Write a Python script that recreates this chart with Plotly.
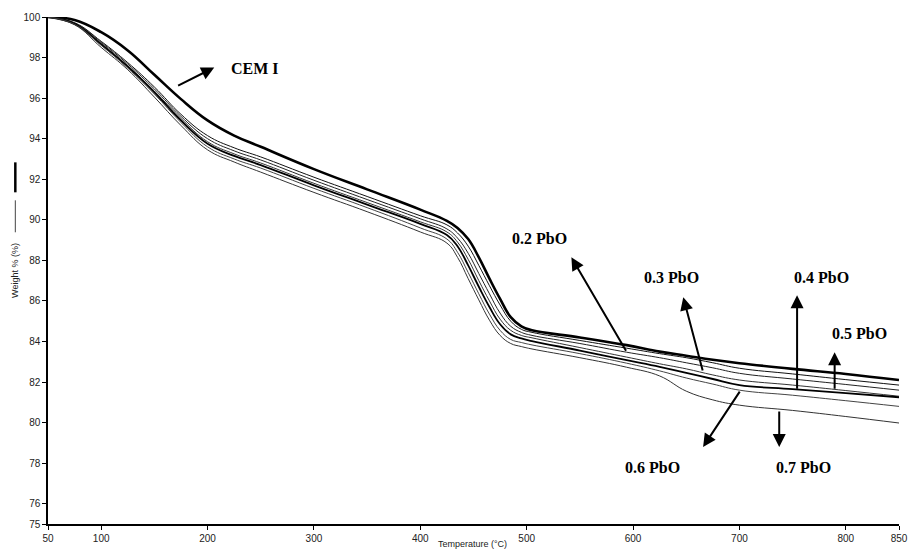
import plotly.graph_objects as go

temps = [50, 75, 100, 125, 150, 175, 200, 225, 250, 300, 350, 400, 425, 435, 445,
         455, 465, 475, 485, 495, 505, 550, 594, 625, 650, 675, 700, 750, 800, 850]

cem_i = [100.0, 99.85, 99.25, 98.35, 97.15, 95.95, 94.9, 94.15, 93.6, 92.5, 91.5, 90.5, 89.95, 89.6, 89.05,
         88.15, 87.1, 86.1, 85.2, 84.75, 84.55, 84.2, 83.82, 83.5, 83.3, 83.1, 82.93, 82.65, 82.4, 82.1]
pbo_05 = [100.0, 99.72, 98.8, 97.75, 96.55, 95.2, 94.15, 93.55, 93.1, 92.1, 91.15, 90.2, 89.75, 89.35, 88.7,
          87.75, 86.75, 85.8, 85.0, 84.6, 84.45, 84.05, 83.67, 83.4, 83.2, 82.95, 82.68, 82.4, 82.12, 81.85]
pbo_02 = [100.0, 99.70, 98.75, 97.68, 96.45, 95.1, 94.0, 93.4, 92.95, 91.95, 91.0, 90.05, 89.55, 89.1, 88.35,
          87.35, 86.35, 85.4, 84.75, 84.45, 84.3, 83.9, 83.47, 83.2, 82.95, 82.7, 82.43, 82.15, 81.88, 81.6]
pbo_03 = [100.0, 99.68, 98.7, 97.6, 96.35, 95.0, 93.85, 93.25, 92.8, 91.8, 90.85, 89.9, 89.4, 88.9, 88.05,
          87.0, 86.0, 85.1, 84.55, 84.3, 84.18, 83.7, 83.23, 82.9, 82.65, 82.35, 82.1, 81.85, 81.58, 81.3]
pbo_04 = [100.0, 99.66, 98.65, 97.55, 96.28, 94.9, 93.75, 93.15, 92.7, 91.7, 90.75, 89.8, 89.25, 88.7, 87.75,
          86.7, 85.7, 84.85, 84.35, 84.15, 84.02, 83.55, 83.08, 82.75, 82.45, 82.15, 81.85, 81.65, 81.45, 81.25]
pbo_06 = [100.0, 99.64, 98.6, 97.48, 96.2, 94.8, 93.6, 93.0, 92.55, 91.55, 90.6, 89.6, 89.05, 88.4, 87.4,
          86.35, 85.35, 84.55, 84.1, 83.95, 83.83, 83.4, 82.93, 82.55, 82.2, 81.9, 81.6, 81.35, 81.08, 80.8]
pbo_07 = [100.0, 99.62, 98.5, 97.4, 96.05, 94.65, 93.45, 92.85, 92.35, 91.35, 90.4, 89.4, 88.85, 88.15, 87.1,
          86.05, 85.05, 84.3, 83.9, 83.75, 83.63, 83.2, 82.73, 82.3, 81.55, 81.12, 80.86, 80.6, 80.3, 79.98]

series = [
    ("CEM I", cem_i, 2.6, "#000000"),
    ("0.5 PbO", pbo_05, 1.0, "#111111"),
    ("0.2 PbO", pbo_02, 1.0, "#222222"),
    ("0.3 PbO", pbo_03, 1.0, "#333333"),
    ("0.4 PbO", pbo_04, 1.8, "#000000"),
    ("0.6 PbO", pbo_06, 1.0, "#444444"),
    ("0.7 PbO", pbo_07, 1.0, "#333333"),
]

x_ticks = [50, 100, 200, 300, 400, 500, 600, 700, 800, 850]
y_ticks = [75, 76, 78, 80, 82, 84, 86, 88, 90, 92, 94, 96, 98, 100]

# label text positions (T, W) and arrows (head T, head W, tail T, tail W)
labels = ["CEM I", "0.2 PbO", "0.3 PbO", "0.4 PbO", "0.5 PbO", "0.6 PbO", "0.7 PbO"]
label_x = [244.4, 512.3, 636.0, 777.4, 812.8, 618.4, 759.8]
label_y = [97.46, 89.09, 87.17, 87.17, 84.41, 77.81, 77.81]
head_x = [206.3, 542.0, 647.2, 754.2, 789.5, 665.8, 737.4]
head_y = [97.51, 88.15, 86.18, 86.28, 83.47, 78.8, 78.8]
tail_x = [170.9, 594.2, 665.8, 754.2, 789.5, 701.2, 737.4]
tail_y = [96.58, 83.47, 82.49, 81.6, 81.6, 81.6, 80.62]

fig = go.Figure()
for name, vals, w, c in series:
    fig.add_trace(go.Scatter(x=temps, y=vals, mode="lines", name=name,
                             line=dict(color=c, width=w, shape="spline", smoothing=1.2),
                             showlegend=False))

annotations = []
for i, t in enumerate(labels):
    annotations.append(dict(x=label_x[i], y=label_y[i], xref="x", yref="y", text="<b>" + t + "</b>",
                            showarrow=False,
                            font=dict(family="Liberation Serif", size=16, color="#000000"),
                            xanchor="center", yanchor="middle"))
    annotations.append(dict(x=head_x[i], y=head_y[i], xref="x", yref="y", text="",
                            showarrow=True, ax=tail_x[i], ay=tail_y[i], axref="x", ayref="y",
                            arrowhead=2, arrowsize=1.3, arrowwidth=2, arrowcolor="#000000",
                            standoff=0, startstandoff=0))

annotations.append(dict(x=0.499, y=-0.04, xref="paper", yref="paper", text="Temperature (°C)",
                        showarrow=False, font=dict(family="Liberation Sans", size=9, color="#222222"),
                        xanchor="center", yanchor="middle"))
annotations.append(dict(x=-0.038, y=(524 - 270) / 507.5, xref="paper", yref="paper", text="Weight % (%)",
                        textangle=-90, showarrow=False,
                        font=dict(family="Liberation Sans", size=9, color="#222222"),
                        xanchor="center", yanchor="middle"))

shapes = [
    dict(type="line", xref="paper", yref="paper", x0=-0.0384, x1=-0.0384,
         y0=(524 - 232) / 507.5, y1=(524 - 200) / 507.5, line=dict(color="#444444", width=1)),
    dict(type="line", xref="paper", yref="paper", x0=-0.0384, x1=-0.0384,
         y0=(524 - 192) / 507.5, y1=(524 - 162) / 507.5, line=dict(color="#000000", width=2.5)),
]

fig.update_layout(
    width=917, height=556,
    margin=dict(l=48, r=9, t=16.5, b=32, pad=0),
    paper_bgcolor="white", plot_bgcolor="white",
    annotations=annotations, shapes=shapes,
    xaxis=dict(range=[50, 850], tickvals=x_ticks, ticktext=[str(v) for v in x_ticks],
               showgrid=False, zeroline=False, showline=True, linecolor="#000000", linewidth=1.5,
               ticks="outside", ticklen=4, tickcolor="#000000",
               tickfont=dict(family="Liberation Sans", size=10, color="#222222")),
    yaxis=dict(range=[75, 100], tickvals=y_ticks, ticktext=[str(v) for v in y_ticks],
               showgrid=False, zeroline=False, showline=True, linecolor="#000000", linewidth=1.5,
               ticks="outside", ticklen=4, tickcolor="#000000",
               tickfont=dict(family="Liberation Sans", size=10, color="#222222")),
)

fig.write_html("out.html")
